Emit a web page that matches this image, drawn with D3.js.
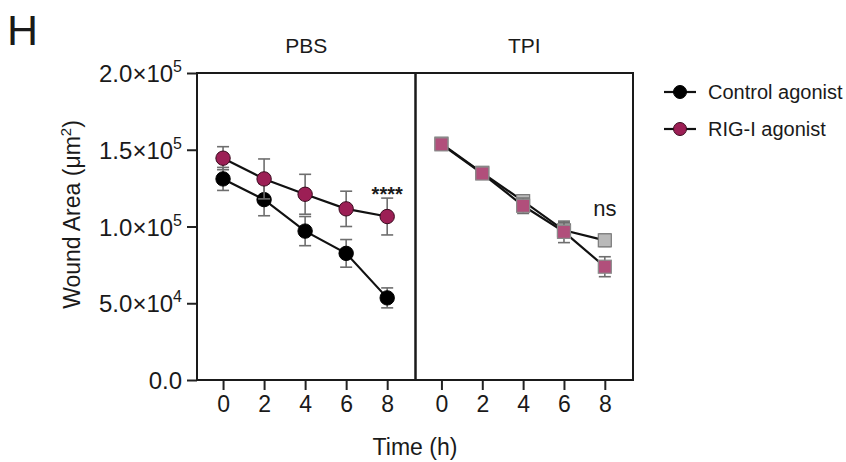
<!DOCTYPE html>
<html>
<head>
<meta charset="utf-8">
<script src="https://cdn.jsdelivr.net/npm/d3@7"></script>
<style>
  html, body { margin: 0; padding: 0; background: #fff; }
  svg { display: block; }
  text { font-family: "Liberation Sans", Arial, Helvetica, sans-serif; fill: #1a1a1a; }
</style>
</head>
<body>
<svg id="chart" width="846" height="462"></svg>
<script>
// Time points (h)
const times = [0, 2, 4, 6, 8];

// Panel titles
const panels = ["PBS", "TPI"];

// Wound area means and SEM (µm²)
const pbsControl    = [131000, 117500, 97000, 82500, 53500];
const pbsControlErr = [7500, 10500, 9500, 9000, 6500];
const pbsRig        = [144500, 131000, 121000, 111500, 106500];
const pbsRigErr     = [7500, 13000, 13000, 11500, 12000];

const tpiControl    = [154000, 135000, 116500, 97500, 91000];
const tpiControlErr = [3500, 2500, 4000, 5000, 4000];
const tpiRig        = [153500, 134500, 113500, 96500, 73800];
const tpiRigErr     = [3500, 2000, 5000, 7000, 6500];

// Y tick values with mantissa / exponent labels
const yTicks    = [0, 50000, 100000, 150000, 200000];
const yMantissa = ["0.0", "5.0", "1.0", "1.5", "2.0"];
const yExponent = [null, "4", "5", "5", "5"];

const legendLabels = ["Control agonist", "RIG-I agonist"];
const significance = ["****", "ns"];

const svg = d3.select("#chart");

const plotTop = 73, plotBottom = 380;
const panelX = [[197, 415.5], [415.5, 633]];

const y = d3.scaleLinear().domain([0, 200000]).range([plotBottom, plotTop]);

const colors = {
  control: "#000000",
  rig: "#9c1f55",
  ctlSquare: "#b9b9b9",
  rigSquare: "#b14f7b",
  err: "#6e6e6e"
};

// "H" panel letter
svg.append("text").attr("x", 7).attr("y", 45)
  .style("font-size", "43px").text("H");

const xScales = panelX.map(([a, b]) =>
  d3.scaleLinear().domain([-1.27, 9.38]).range([a, b]));

// Panel titles
panels.forEach((p, i) => {
  svg.append("text")
    .attr("x", (panelX[i][0] + panelX[i][1]) / 2)
    .attr("y", 53)
    .attr("text-anchor", "middle")
    .style("font-size", "21px")
    .text(p);
});

// X axes (ticks under each panel)
xScales.forEach(xs => {
  const g = svg.append("g").attr("transform", `translate(0,${plotBottom})`);
  g.call(d3.axisBottom(xs).tickValues(times).tickSize(10).tickPadding(6).tickFormat(d3.format("d")));
  g.select(".domain").remove();
  g.selectAll(".tick line").attr("stroke", "#222").attr("stroke-width", 2);
  g.selectAll(".tick text").style("font-size", "23px").attr("fill", "#1a1a1a")
    .style("font-family", "'Liberation Sans', Arial, sans-serif");
});

// Y axis
const yAxis = svg.append("g").attr("transform", `translate(${panelX[0][0]},0)`);
yAxis.call(d3.axisLeft(y).tickValues(yTicks).tickSize(10).tickFormat(""));
yAxis.select(".domain").remove();
yAxis.selectAll(".tick line").attr("stroke", "#222").attr("stroke-width", 2);
yTicks.forEach((v, i) => {
  const t = svg.append("text")
    .attr("x", panelX[0][0] - 15)
    .attr("y", y(v) + 9)
    .attr("text-anchor", "end")
    .style("font-size", "24px");
  if (yExponent[i]) {
    t.append("tspan").text(yMantissa[i] + "\u00d710");
    t.append("tspan").attr("dy", -10).style("font-size", "16px").text(yExponent[i]);
  } else {
    t.text(yMantissa[i]);
  }
});

// Y axis title
const yTitle = svg.append("text")
  .attr("transform", `translate(80,${(plotTop + plotBottom) / 2 - 12}) rotate(-90)`)
  .attr("text-anchor", "middle")
  .style("font-size", "23px");
yTitle.append("tspan").text("Wound Area (\u03bcm");
yTitle.append("tspan").attr("dy", -9).style("font-size", "15px").text("2");
yTitle.append("tspan").attr("dy", 9).text(")");

// X axis title
svg.append("text")
  .attr("x", (panelX[0][0] + panelX[1][1]) / 2)
  .attr("y", 455)
  .attr("text-anchor", "middle")
  .style("font-size", "23px")
  .text("Time (h)");

// Draw one series: line, error bars, markers
function drawSeries(xs, means, errs, shape, fill, stroke) {
  const g = svg.append("g");
  const pts = times.map((t, i) => ({ t, m: means[i], e: errs[i] }));
  g.selectAll("line.err").data(pts).join("line")
    .attr("x1", d => xs(d.t)).attr("x2", d => xs(d.t))
    .attr("y1", d => y(d.m + d.e)).attr("y2", d => y(d.m - d.e))
    .attr("stroke", colors.err).attr("stroke-width", 1.6);
  ["+", "-"].forEach(s => {
    g.selectAll("line.cap" + (s === "+" ? "u" : "d")).data(pts).join("line")
      .attr("x1", d => xs(d.t) - 6).attr("x2", d => xs(d.t) + 6)
      .attr("y1", d => y(s === "+" ? d.m + d.e : d.m - d.e))
      .attr("y2", d => y(s === "+" ? d.m + d.e : d.m - d.e))
      .attr("stroke", colors.err).attr("stroke-width", 1.6);
  });
  g.append("path").datum(pts)
    .attr("d", d3.line().x(d => xs(d.t)).y(d => y(d.m)))
    .attr("fill", "none").attr("stroke", "#111").attr("stroke-width", 2.2);
  if (shape === "circle") {
    g.selectAll("circle").data(pts).join("circle")
      .attr("cx", d => xs(d.t)).attr("cy", d => y(d.m)).attr("r", 7.2)
      .attr("fill", fill).attr("stroke", stroke).attr("stroke-width", 1);
  } else {
    g.selectAll("rect").data(pts).join("rect")
      .attr("x", d => xs(d.t) - 6.5).attr("y", d => y(d.m) - 6.5)
      .attr("width", 13).attr("height", 13)
      .attr("fill", fill).attr("stroke", stroke).attr("stroke-width", 1.2);
  }
}

// PBS panel
drawSeries(xScales[0], pbsControl, pbsControlErr, "circle", colors.control, "#000");
drawSeries(xScales[0], pbsRig, pbsRigErr, "circle", colors.rig, "#3a0a1e");

// TPI panel
drawSeries(xScales[1], tpiControl, tpiControlErr, "square", colors.ctlSquare, "#7a7a7a");
drawSeries(xScales[1], tpiRig, tpiRigErr, "square", colors.rigSquare, "#8a8a8a");

// Panel frames
panelX.forEach(([a, b]) => {
  svg.append("rect").attr("x", a).attr("y", plotTop)
    .attr("width", b - a).attr("height", plotBottom - plotTop)
    .attr("fill", "none").attr("stroke", "#1a1a1a").attr("stroke-width", 2);
});

// Significance annotations at 8 h
svg.append("text")
  .attr("x", xScales[0](8)).attr("y", y(pbsRig[4] + pbsRigErr[4]) + 3)
  .attr("text-anchor", "middle").style("font-size", "20px").style("font-weight", "bold")
  .attr("fill", "#333")
  .text(significance[0]);
svg.append("text")
  .attr("x", xScales[1](8)).attr("y", y(tpiControl[4]) - 24)
  .attr("text-anchor", "middle").style("font-size", "22px")
  .text(significance[1]);

// Legend
const legend = svg.append("g");
const legendY = [92, 129];
legendLabels.forEach((lab, i) => {
  legend.append("line").attr("x1", 664).attr("x2", 696)
    .attr("y1", legendY[i]).attr("y2", legendY[i])
    .attr("stroke", "#111").attr("stroke-width", 2.2);
  legend.append("circle").attr("cx", 680).attr("cy", legendY[i]).attr("r", 6.5)
    .attr("fill", i === 0 ? colors.control : colors.rig)
    .attr("stroke", i === 0 ? "#000" : "#3a0a1e").attr("stroke-width", 1);
  legend.append("text").attr("x", 708).attr("y", legendY[i] + 7)
    .style("font-size", "20px").text(lab);
});
</script>
</body>
</html>
